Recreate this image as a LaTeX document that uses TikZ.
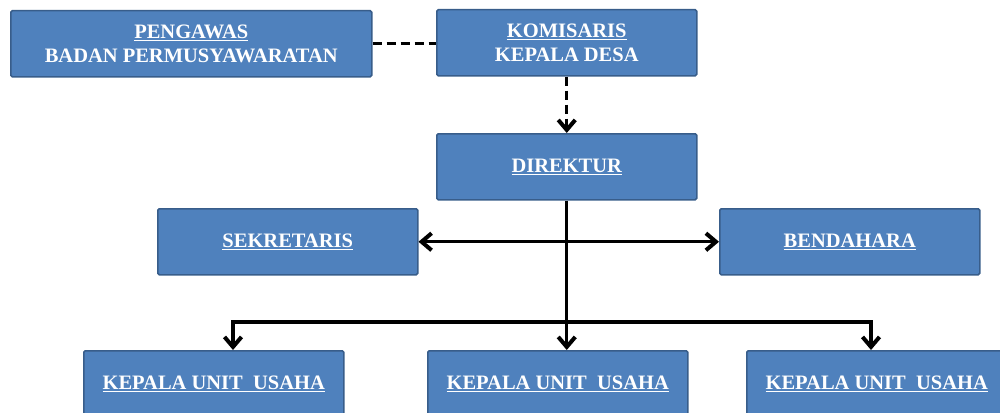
\documentclass[tikz,border=0pt]{standalone}
\usepackage{fontspec}
\setmainfont{Liberation Serif}
\usetikzlibrary{arrows.meta}
\definecolor{boxfill}{HTML}{4F81BD}
\definecolor{boxline}{HTML}{385D8A}
\tikzset{
  orgbox/.style={draw=boxline, line width=1.5pt, fill=boxfill, rounded corners=1.5pt,
    anchor=north west, minimum height=66pt, inner sep=0pt, align=center,
    text=white, font=\fontsize{20.5}{24}\selectfont\bfseries},
  conn/.style={line width=3.3pt, draw=black},
  dashconn/.style={conn, dash pattern=on 9pt off 5pt},
  tip/.tip={Straight Barb[length=10pt, width=17pt, line width=4pt, line cap=butt]}
}
\begin{document}
\begin{tikzpicture}[x=1pt, y=-1pt]
\useasboundingbox (0,0) rectangle (1000,412);
\node[orgbox, minimum width=361pt] (peng) at (10,10) {\underline{PENGAWAS}\\BADAN PERMUSYAWARATAN};
\node[orgbox, minimum width=260pt] (kom) at (436,9) {\underline{KOMISARIS}\\KEPALA DESA};
\node[orgbox, minimum width=260pt] (dir) at (436,133) {\underline{DIREKTUR}};
\node[orgbox, minimum width=260pt] (sek) at (157,208) {\underline{SEKRETARIS}};
\node[orgbox, minimum width=260pt] (ben) at (719,208) {\underline{BENDAHARA}};
\node[orgbox, minimum width=260pt] (k1) at (83,350) {\underline{KEPALA UNIT\ \ USAHA}};
\node[orgbox, minimum width=260pt] (k2) at (427,350) {\underline{KEPALA UNIT\ \ USAHA}};
\node[orgbox, minimum width=260pt] (k3) at (746,350) {\underline{KEPALA UNIT\ \ USAHA}};
\coordinate (bl) at (233,322);
\coordinate (br) at (871,322);
\draw[dashconn] (peng.east) -- (kom.west |- peng.east);
\draw[dashconn, -{tip}] (kom.south) -- (dir.north);
\draw[conn, {tip}-{tip}] (sek.east) -- (ben.west);
\draw[conn, -{tip}] (dir.south) -- (dir.south |- k2.north);
\draw[conn, {tip}-{tip}] (k1.north -| bl) -- (bl) -- (br) -- (k3.north -| br);
\end{tikzpicture}
\end{document}
